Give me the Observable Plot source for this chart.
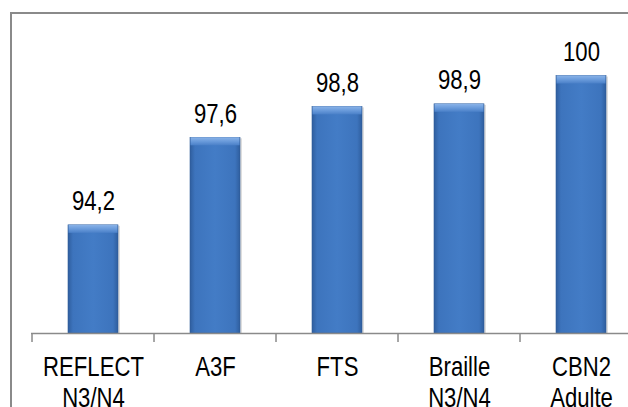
<!DOCTYPE html>
<html>
<head>
<meta charset="utf-8">
<script src="https://cdn.jsdelivr.net/npm/d3@7"></script>
<script src="https://cdn.jsdelivr.net/npm/@observablehq/plot@0.6"></script>
<style>
  html, body { margin: 0; padding: 0; background: #fff; overflow: hidden; }
  #wrap { position: relative; width: 628px; height: 407px; overflow: hidden; }
  #frame { position: absolute; left: 10px; top: 12px; width: 700px; height: 500px;
           border: 2px solid #8a8a8a; box-sizing: border-box; pointer-events: none; }
  #chart { position: absolute; left: 0; top: 0; }
  svg { overflow: visible; }
</style>
</head>
<body>
<div id="wrap"><div id="frame"></div><div id="chart"></div></div>
<script>
const categories = ["REFLECT\nN3/N4", "A3F", "FTS", "Braille\nN3/N4", "CBN2\nAdulte"];
const values = [94.2, 97.6, 98.8, 98.9, 100];
const valueLabels = ["94,2", "97,6", "98,8", "98,9", "100"];

const data = categories.map((c, i) => ({cat: c, value: values[i], label: valueLabels[i]}));
const FONT = "'Liberation Sans', Arial, sans-serif";
const P = 0.59;

function defs() {
  const ns = "http://www.w3.org/2000/svg";
  const d = document.createElementNS(ns, "defs");
  d.innerHTML = `
    <linearGradient id="body" x1="0" x2="1" y1="0" y2="0">
      <stop offset="0" stop-color="#2f5e9e"/>
      <stop offset="0.1" stop-color="#3d74bd"/>
      <stop offset="0.5" stop-color="#437cc6"/>
      <stop offset="0.9" stop-color="#3d74bd"/>
      <stop offset="1" stop-color="#2f5e9e"/>
    </linearGradient>
    <linearGradient id="bevel" x1="0" x2="0" y1="0" y2="1">
      <stop offset="0" stop-color="#8ab3e8"/>
      <stop offset="0.5" stop-color="#6a9bdb"/>
      <stop offset="1" stop-color="#4a80c8"/>
    </linearGradient>`;
  return d;
}

const chart = Plot.plot({
  width: 628,
  height: 407,
  marginTop: 24,
  marginBottom: 74,
  marginLeft: 31,
  marginRight: -15,
  style: {fontFamily: FONT, background: "transparent", overflow: "visible"},
  x: {domain: categories, paddingInner: P, paddingOuter: P / 2, axis: null, label: null},
  y: {domain: [90, 102], axis: null},
  marks: [
    defs,
    Plot.barY(data, {x: "cat", y1: 90, y2: "value", fill: "#000", fillOpacity: 0.13, dx: 2, dy: 1}),
    Plot.barY(data, {x: "cat", y1: 90, y2: "value", fill: "url(#body)", stroke: "#2f5c98", strokeWidth: 0.6}),
    Plot.barY(data, {x: "cat", y1: "value", y2: "value", insetBottom: -8, insetLeft: 0.5, insetRight: 0.5, fill: "url(#bevel)"}),
    Plot.text(data, {x: "cat", y: "value", text: "label", dy: -15, lineAnchor: "bottom", fontSize: 27, fill: "#000"}),
    Plot.ruleY([90], {stroke: "#8a8a8a", strokeWidth: 1.5}),
    Plot.axisX({domain: categories, label: null, tickSize: 0, tickPadding: 20, fontSize: 27, lineHeight: 1.15, fill: "#000", fontFamily: FONT})
  ]
});

const xs = chart.scale("x");
const ys = chart.scale("y");
const step = xs.step !== undefined ? xs.step : xs.bandwidth / (1 - P);
const y0 = ys.apply(90);
const svg = d3.select(chart);
categories.forEach(c => {
  const left = xs.apply(c) - step * P / 2;
  svg.append("line")
    .attr("x1", left).attr("x2", left)
    .attr("y1", y0).attr("y2", y0 + 9)
    .attr("stroke", "#8a8a8a").attr("stroke-width", 1.5);
});

// narrow the font (Arial Narrow look) by compressing each text horizontally about its anchor
svg.selectAll("text").each(function() {
  const t = this.getAttribute("transform") || "";
  this.setAttribute("transform", t + " scale(0.82,1)");
});

document.getElementById("chart").appendChild(chart);
</script>
</body>
</html>
